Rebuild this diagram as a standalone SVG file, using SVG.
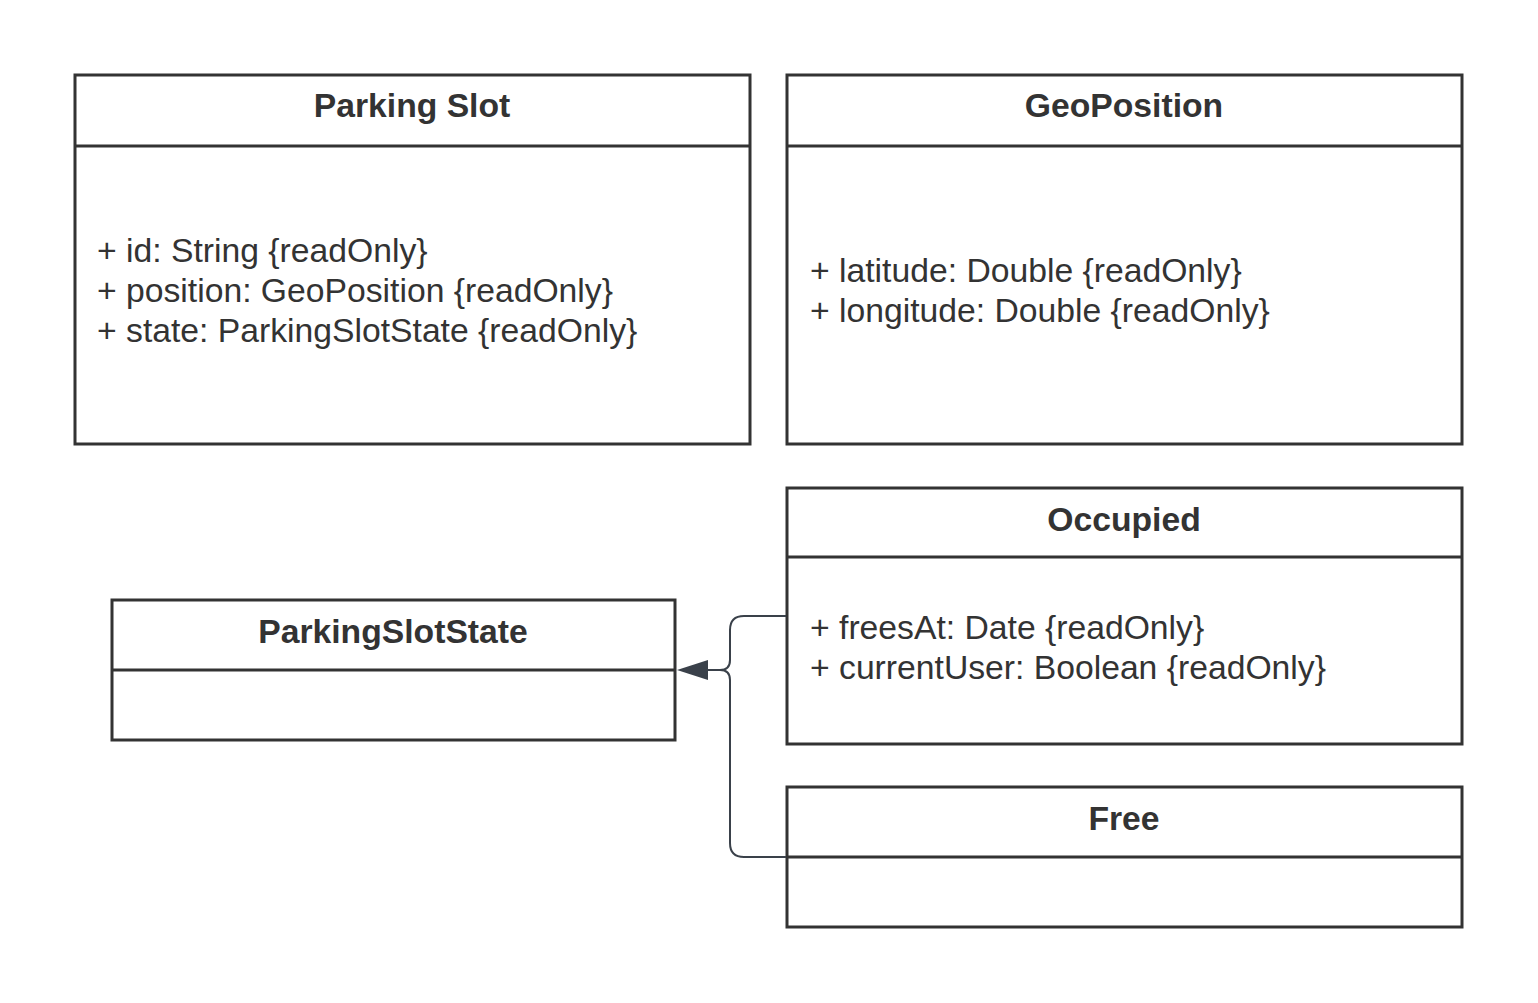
<svg xmlns="http://www.w3.org/2000/svg" width="1538" height="1003" viewBox="0 0 1538 1003">
<style>
.box{fill:#fff;stroke:#333;stroke-width:3}
.div{stroke:#333;stroke-width:3}
.h{font-family:"Liberation Sans",Arial,sans-serif;font-weight:bold;font-size:33.7px;fill:#333;text-anchor:middle}
.a{font-family:"Liberation Sans",Arial,sans-serif;font-size:33.7px;fill:#333}
.c{fill:none;stroke:#3a414a;stroke-width:2}
</style>
<rect width="1538" height="1003" fill="#fff"/>
<g id="parking-slot">
<rect class="box" x="75" y="75" width="675" height="369"/>
<line class="div" x1="75" y1="146" x2="750" y2="146"/>
<text class="h" x="412" y="117">Parking Slot</text>
<text class="a" x="97" y="262">+ id: String {readOnly}</text>
<text class="a" x="97" y="302">+ position: GeoPosition {readOnly}</text>
<text class="a" x="97" y="342">+ state: ParkingSlotState {readOnly}</text>
</g>
<g id="geoposition">
<rect class="box" x="787" y="75" width="675" height="369"/>
<line class="div" x1="787" y1="146" x2="1462" y2="146"/>
<text class="h" x="1124" y="117">GeoPosition</text>
<text class="a" x="810" y="282">+ latitude: Double {readOnly}</text>
<text class="a" x="810" y="322">+ longitude: Double {readOnly}</text>
</g>
<g id="occupied">
<rect class="box" x="787" y="488" width="675" height="256"/>
<line class="div" x1="787" y1="557" x2="1462" y2="557"/>
<text class="h" x="1124" y="531">Occupied</text>
<text class="a" x="810" y="639">+ freesAt: Date {readOnly}</text>
<text class="a" x="810" y="679">+ currentUser: Boolean {readOnly}</text>
</g>
<g id="parking-slot-state">
<rect class="box" x="112" y="600" width="563" height="140"/>
<line class="div" x1="112" y1="670" x2="675" y2="670"/>
<text class="h" x="393" y="643">ParkingSlotState</text>
</g>
<g id="free">
<rect class="box" x="787" y="787" width="675" height="140"/>
<line class="div" x1="787" y1="857" x2="1462" y2="857"/>
<text class="h" x="1124" y="830">Free</text>
</g>
<g id="connectors">
<path class="c" d="M786 616 H744 Q730 616 730 630 V660 Q730 670 720 670 H706"/>
<path class="c" d="M786 857 H744 Q730 857 730 843 V680 Q730 670 720 670"/>
<polygon points="677,670 708,660 708,680" fill="#3a414a"/>
</g>
</svg>
